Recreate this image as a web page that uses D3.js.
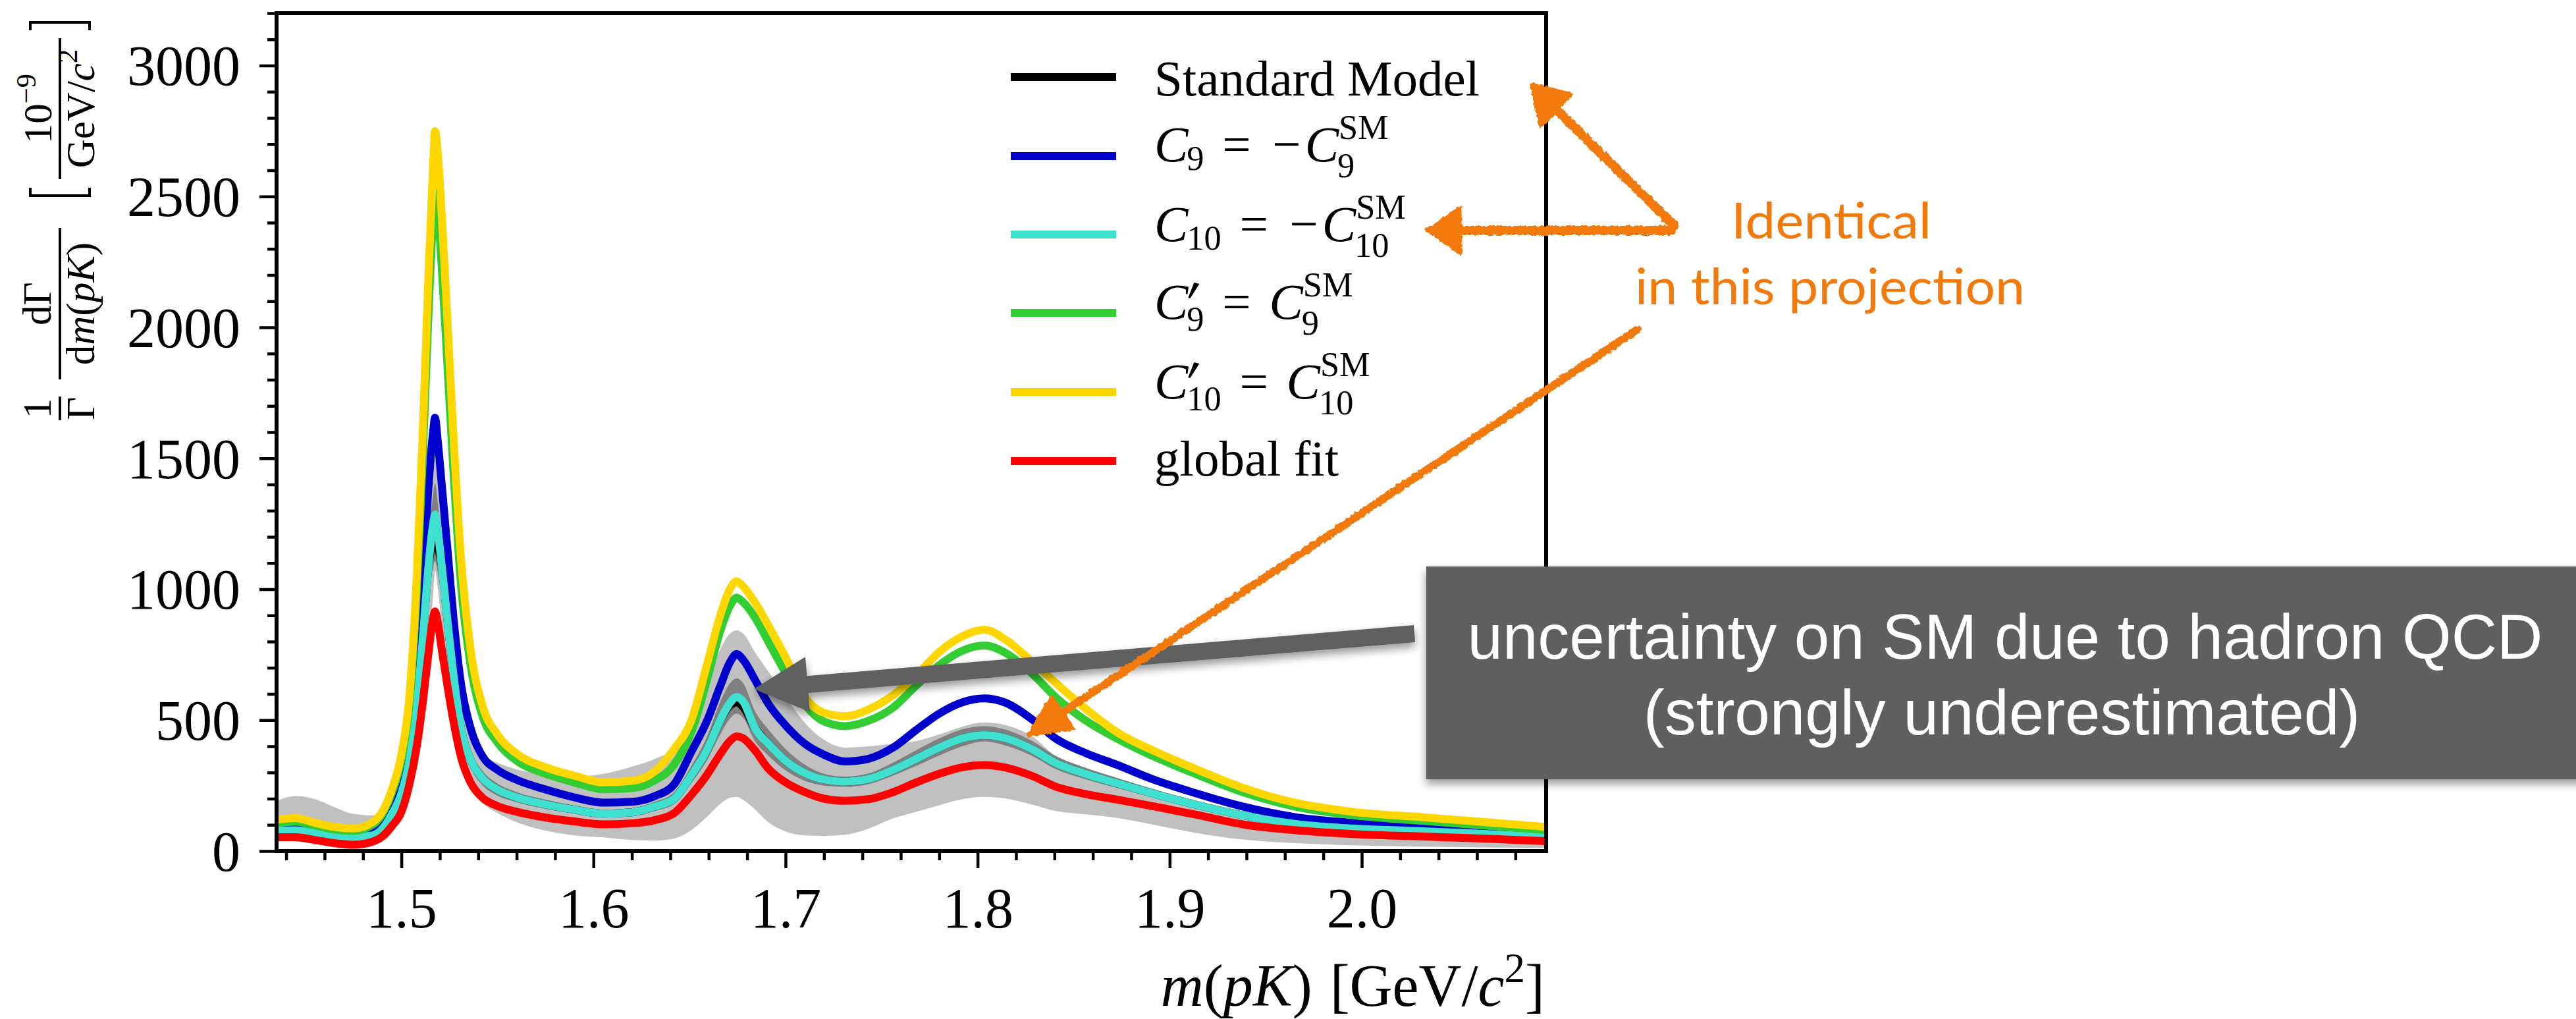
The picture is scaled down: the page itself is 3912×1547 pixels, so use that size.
<!DOCTYPE html>
<html>
<head>
<meta charset="utf-8">
<title>m(pK) spectrum: Standard Model and Wilson-coefficient scenarios</title>
<script src="https://cdn.jsdelivr.net/npm/d3@7"></script>
<style>
  html, body { margin: 0; padding: 0; background: #ffffff; }
  svg { display: block; }
</style>
</head>
<body>
<svg id="chart" width="3912" height="1547" xmlns="http://www.w3.org/2000/svg"></svg>
<script>
// ---------------------------------------------------------------
// Data: m(pK) sampling points [GeV/c^2] and the normalised rate
// 1/Γ dΓ/dm(pK) in units of 1e-9 / (GeV/c^2) for each scenario.
// ---------------------------------------------------------------
const massGrid = [1.435,1.445,1.455,1.465,1.475,1.485,1.490,1.495,1.500,1.504,1.508,1.511,1.514,1.5165,1.5175,1.519,1.521,1.524,1.527,1.531,1.536,1.542,1.550,1.560,1.575,1.590,1.605,1.620,1.632,1.642,1.651,1.659,1.666,1.671,1.6745,1.678,1.684,1.691,1.700,1.710,1.720,1.731,1.743,1.756,1.768,1.780,1.792,1.8035,1.815,1.828,1.841,1.856,1.873,1.892,1.913,1.938,1.965,1.995,2.030,2.065,2.096];

const smRate        = [78,79,68,57,53,60,84,140,220,340,560,800,1080,1195,1228,1165,1090,880,680,470,350,280,235,205,178,158,143,148,170,200,290,385,500,555,568,550,470,410,345,298,273,265,275,310,352,395,430,443,430,390,335,295,258,218,178,137,104,86,76,65,55];
const c9FlipRate    = [93,97,84,70,64,75,105,170,260,400,680,1000,1380,1600,1655,1560,1400,1150,900,640,470,365,310,272,235,205,185,188,210,255,380,495,630,720,752,730,655,563,480,410,368,342,352,395,462,525,568,583,565,505,428,375,328,272,222,170,130,108,95,80,67];
const c10FlipRate   = [78,79,68,57,53,60,84,140,220,340,560,800,1080,1250,1285,1220,1090,880,680,470,350,280,235,205,178,158,143,148,170,200,290,385,500,565,588,570,470,410,345,298,273,265,275,310,352,395,430,443,430,390,335,295,258,218,178,137,104,86,76,65,55];
const c9PrimeRate   = [106,112,97,82,77,100,140,222,350,550,990,1480,2030,2420,2530,2440,2230,1850,1460,1020,710,520,415,345,295,262,236,240,270,330,455,650,840,935,968,950,893,800,680,560,495,477,497,548,632,710,765,785,755,680,585,500,428,360,296,225,170,137,116,97,80];
const c10PrimeRate  = [120,126,108,92,86,110,150,235,370,580,1050,1580,2180,2620,2750,2660,2430,2020,1600,1120,770,560,445,372,320,288,262,268,305,390,500,710,900,1000,1030,1010,950,862,740,590,528,515,540,595,670,760,820,845,805,725,640,545,452,382,315,242,185,150,130,110,92];
const globalFitRate = [53,53,42,30,24,36,55,95,150,250,400,560,750,890,915,870,770,630,500,360,262,205,172,150,128,113,102,106,118,145,215,290,370,420,438,430,385,315,262,225,200,192,198,225,262,295,320,328,318,288,245,218,196,170,140,102,80,65,56,47,38];

// Hadronic uncertainty on the SM prediction (wide and narrow bands)
const smBandOuterLow  = [45,46,35,24,18,28,45,80,128,215,350,500,720,980,1070,1000,860,640,460,330,240,185,145,110,78,60,52,42,40,48,80,130,180,203,207,195,160,110,75,60,58,62,85,125,150,175,198,207,200,178,152,140,126,100,70,44,30,22,17,14,12];
const smBandOuterHigh = [191,210,198,168,142,136,150,200,270,400,660,950,1290,1470,1497,1420,1270,1030,800,580,440,370,338,312,292,285,295,322,352,395,500,640,770,830,843,830,760,686,590,490,425,395,400,410,420,445,475,491,480,440,360,318,278,236,194,152,118,98,86,74,62];
const smBandInnerLow  = [70,71,61,51,47,53,75,126,198,305,505,720,960,1085,1109,1060,960,790,615,425,318,253,212,186,161,143,129,133,153,180,260,345,445,505,525,508,420,365,308,268,250,245,255,288,325,365,400,419,402,365,312,275,240,203,165,126,96,80,70,60,51];
const smBandInnerHigh = [88,89,77,65,60,68,94,155,245,375,615,880,1180,1360,1404,1330,1190,965,745,515,385,308,258,225,196,174,158,164,188,225,325,435,570,640,660,640,535,465,390,330,295,284,296,338,385,430,465,477,463,422,362,318,278,235,192,150,114,95,83,71,60];

const seriesNames  = ["Standard Model", "C9 = −C9^SM", "C10 = −C10^SM", "C9' = C9^SM", "C10' = C10^SM", "global fit"];
const seriesColors = ["#000000", "#0000cd", "#40e0d0", "#32cd32", "#ffd700", "#ff0000"];

const xTickValues = [1.5, 1.6, 1.7, 1.8, 1.9, 2.0];
const xTickLabels = ["1.5", "1.6", "1.7", "1.8", "1.9", "2.0"];
const yTickValues = [0, 500, 1000, 1500, 2000, 2500, 3000];
const yTickLabels = ["0", "500", "1000", "1500", "2000", "2500", "3000"];

const boxLines  = ["uncertainty on SM due to hadron QCD", "(strongly underestimated)"];
const noteLines = ["Identical", "in this projection"];

// ---------------------------------------------------------------
// Layout
// ---------------------------------------------------------------
const SERIF = "'Liberation Serif', 'DejaVu Serif', serif";
const SANS  = "'Liberation Sans', Arial, sans-serif";
const ORANGE = "#f27a0c";
const LINE_W = 12;
const plot = { left: 420, right: 2348, top: 20, bottom: 1292 };

const svg = d3.select("#chart");

const x = d3.scaleLinear().domain([1.435, 2.096]).range([plot.left, plot.right]);
const y = d3.scaleLinear().domain([0, 3200]).range([plot.bottom, plot.top]);

// ---------- filters ----------
const defs = svg.append("defs");
defs.append("clipPath").attr("id", "plotClip")
  .append("rect").attr("x", plot.left).attr("y", plot.top)
  .attr("width", plot.right - plot.left).attr("height", plot.bottom - plot.top);

const shadow = defs.append("filter").attr("id", "softShadow")
  .attr("filterUnits", "userSpaceOnUse").attr("x", 0).attr("y", 0).attr("width", 3912).attr("height", 1547);
shadow.append("feGaussianBlur").attr("in", "SourceAlpha").attr("stdDeviation", 7);
shadow.append("feOffset").attr("dx", 0).attr("dy", 7).attr("result", "off");
shadow.append("feComponentTransfer").attr("in", "off").attr("result", "soft")
  .append("feFuncA").attr("type", "linear").attr("slope", 0.42);
const sm = shadow.append("feMerge");
sm.append("feMergeNode").attr("in", "soft");
sm.append("feMergeNode").attr("in", "SourceGraphic");

const rough = defs.append("filter").attr("id", "rough")
  .attr("filterUnits", "userSpaceOnUse").attr("x", 0).attr("y", 0).attr("width", 3912).attr("height", 1547);
rough.append("feTurbulence").attr("type", "fractalNoise").attr("baseFrequency", 0.18)
  .attr("numOctaves", 2).attr("seed", 4).attr("result", "noise");
rough.append("feDisplacementMap").attr("in", "SourceGraphic").attr("in2", "noise")
  .attr("scale", 6).attr("xChannelSelector", "R").attr("yChannelSelector", "G");

// ---------- bands and curves ----------
const idx = d3.range(massGrid.length);
const plotArea = svg.append("g").attr("clip-path", "url(#plotClip)");

function band(low, high, color) {
  const area = d3.area()
    .x(i => x(massGrid[i]))
    .y0(i => y(low[i]))
    .y1(i => y(high[i]))
    .curve(d3.curveMonotoneX);
  plotArea.append("path").attr("d", area(idx)).attr("fill", color).attr("stroke", "none");
}
band(smBandOuterLow, smBandOuterHigh, "#c0c0c0");
band(smBandInnerLow, smBandInnerHigh, "#808080");

const seriesValues = [smRate, c9FlipRate, c10FlipRate, c9PrimeRate, c10PrimeRate, globalFitRate];
const line = d3.line()
  .x((d, i) => x(massGrid[i]))
  .y(d => y(d))
  .curve(d3.curveMonotoneX);

seriesValues.forEach((vals, k) => {
  plotArea.append("path")
    .attr("d", line(vals))
    .attr("fill", "none")
    .attr("stroke", seriesColors[k])
    .attr("stroke-width", LINE_W)
    .attr("stroke-linejoin", "round");
});

// ---------- axes ----------
const xMinor = d3.range(72, 105).filter(k => k % 5 !== 0).map(k => k * 0.02);
const yMinor = d3.range(0, 33).filter(k => k % 5 !== 0).map(k => k * 100);

function styleAxis(g) {
  g.select(".domain").remove();
  g.selectAll(".tick line").attr("stroke", "#000").attr("stroke-width", 4.5);
  g.attr("font-family", SERIF).attr("font-size", 86);
  g.selectAll("text").attr("fill", "#000");
}

svg.append("g").attr("transform", `translate(0,${plot.bottom})`)
  .call(d3.axisBottom(x).tickValues(xMinor).tickSize(14).tickFormat(""))
  .call(styleAxis);
svg.append("g").attr("transform", `translate(0,${plot.bottom})`)
  .call(d3.axisBottom(x).tickValues(xTickValues).tickSize(26).tickFormat((d, i) => xTickLabels[i]))
  .call(styleAxis)
  .call(g => g.selectAll("text").attr("y", 116).attr("dy", null));

svg.append("g").attr("transform", `translate(${plot.left},0)`)
  .call(d3.axisLeft(y).tickValues(yMinor).tickSize(14).tickFormat(""))
  .call(styleAxis);
svg.append("g").attr("transform", `translate(${plot.left},0)`)
  .call(d3.axisLeft(y).tickValues(yTickValues).tickSize(26).tickFormat((d, i) => yTickLabels[i]))
  .call(styleAxis)
  .call(g => g.selectAll("text").attr("x", -55).attr("dy", "0.34em"));

// frame
svg.append("rect")
  .attr("x", plot.left).attr("y", plot.top)
  .attr("width", plot.right - plot.left).attr("height", plot.bottom - plot.top)
  .attr("fill", "none").attr("stroke", "#000").attr("stroke-width", 6);

// ---------- math text helper ----------
// Lays out a run of pieces (with optional stacked sub/superscripts and a
// drawn prime) inside a group; returns the group and the run's width.
function mathRun(parent, pieces, size) {
  const g = parent.append("g");
  const probe = g.append("text").attr("visibility", "hidden");
  const widthOf = q => {
    probe.attr("font-size", size * (q.s || 1)).attr("font-style", q.it ? "italic" : "normal").text(q.t);
    return probe.node().getComputedTextLength();
  };
  const items = [], primes = [];
  let cx = 0;
  pieces.forEach(p => {
    if (p.gap) cx += p.gap * size;
    if (p.stack) {
      let w = 0;
      if (p.stack.prime) { primes.push(cx); w = size * 0.2; }
      ["sup", "sub"].forEach(k => {
        const q = p.stack[k];
        if (!q) return;
        const dx = q.dx || 0;
        items.push({ q, at: cx + dx });
        w = Math.max(w, widthOf(q) + dx);
      });
      cx += w;
    } else {
      items.push({ q: p, at: cx });
      cx += widthOf(p);
    }
  });
  probe.remove();
  const t = g.append("text");
  items.forEach(({ q, at }) => {
    t.append("tspan")
      .attr("x", at).attr("y", q.sh || 0)
      .attr("font-size", size * (q.s || 1))
      .attr("font-style", q.it ? "italic" : "normal")
      .text(q.t);
  });
  const k = size / 77;
  primes.forEach(px => {
    g.append("polygon")
      .attr("points", [[px + 9 * k, -55 * k], [px + 17 * k, -53 * k], [px + 3 * k, -31 * k], [px + 0 * k, -32 * k]]
        .map(p => p.join(",")).join(" "))
      .attr("fill", "#000");
  });
  return { node: g, width: cx };
}
function placeRun(parent, pieces, size, anchorX, baseline, anchor) {
  const r = mathRun(parent, pieces, size);
  const shift = anchor === "middle" ? r.width / 2 : anchor === "end" ? r.width : 0;
  r.node.attr("transform", `translate(${anchorX - shift},${baseline})`);
  return r;
}

// ---------- legend ----------
const SUB = 0.68;
const supSM = { t: "SM", s: SUB, sh: -34 };
const legendPieces = [
  [{ t: "Standard Model" }],
  [{ t: "C", it: 1 }, { stack: { sub: { t: "9", s: SUB, sh: 13, dx: -2 } } },
   { gap: 0.36, t: "=" }, { gap: 0.42, t: "−" }, { gap: 0.08, t: "C", it: 1 },
   { stack: { sup: supSM, sub: { t: "9", s: SUB, sh: 24, dx: -2 } } }],
  [{ t: "C", it: 1 }, { stack: { sub: { t: "10", s: SUB, sh: 13, dx: -2 } } },
   { gap: 0.36, t: "=" }, { gap: 0.42, t: "−" }, { gap: 0.08, t: "C", it: 1 },
   { stack: { sup: supSM, sub: { t: "10", s: SUB, sh: 24, dx: -2 } } }],
  [{ t: "C", it: 1 }, { stack: { prime: true, sub: { t: "9", s: SUB, sh: 18, dx: -2 } } },
   { gap: 0.36, t: "=" }, { gap: 0.36, t: "C", it: 1 },
   { stack: { sup: supSM, sub: { t: "9", s: SUB, sh: 24, dx: -2 } } }],
  [{ t: "C", it: 1 }, { stack: { prime: true, sub: { t: "10", s: SUB, sh: 18, dx: -2 } } },
   { gap: 0.36, t: "=" }, { gap: 0.36, t: "C", it: 1 },
   { stack: { sup: supSM, sub: { t: "10", s: SUB, sh: 24, dx: -2 } } }],
  [{ t: "global fit" }]
];
const legendRowY = [117, 237, 356, 475, 595, 700];
const legendBase = [145, 245, 366, 484, 605, 722];
const legend = svg.append("g").attr("font-family", SERIF).attr("fill", "#000");
seriesNames.forEach((name, k) => {
  legend.append("line")
    .attr("x1", 1535).attr("x2", 1695)
    .attr("y1", legendRowY[k]).attr("y2", legendRowY[k])
    .attr("stroke", seriesColors[k]).attr("stroke-width", LINE_W);
  placeRun(legend, legendPieces[k], 77, 1753, legendBase[k], "start")
    .node.attr("data-series", name);
});

// ---------- axis titles ----------
const xTitle = svg.append("g").attr("font-family", SERIF).attr("fill", "#000");
placeRun(xTitle, [
  { t: "m", it: 1 }, { t: "(" }, { t: "p", it: 1 }, { t: "K", it: 1 }, { t: ")" },
  { gap: 0.3, t: "[GeV/" }, { t: "c", it: 1 }, { t: "2", s: 0.7, sh: -36 }, { t: "]" }
], 90, plot.right - 2, 1527, "end");

// y title, drawn rotated; local x runs up the page, local y runs to the right
const yTitle = svg.append("g")
  .attr("transform", "translate(91,0) rotate(-90)")
  .attr("font-family", SERIF).attr("fill", "#000");
const YS = 61;
function fracBar(u0, u1) {
  yTitle.append("line").attr("x1", u0).attr("x2", u1).attr("y1", 0).attr("y2", 0)
    .attr("stroke", "#000").attr("stroke-width", 4);
}
placeRun(yTitle, [{ t: "1" }], YS, -620, -14, "middle");
placeRun(yTitle, [{ t: "Γ" }], YS, -620, 52, "middle");
fracBar(-638, -602);
placeRun(yTitle, [{ t: "dΓ" }], YS, -461, -14, "middle");
placeRun(yTitle, [{ t: "d" }, { t: "m", it: 1 }, { t: "(" }, { t: "p", it: 1 }, { t: "K", it: 1 }, { t: ")" }], YS, -461, 52, "middle");
fracBar(-576, -346);
placeRun(yTitle, [{ t: "10" }, { t: "−9", s: 0.7, sh: -24 }], YS, -165, -13, "middle");
placeRun(yTitle, [{ t: "GeV/" }, { t: "c", it: 1 }, { t: "2", s: 0.7, sh: -26 }], YS, -165, 52, "middle");
fracBar(-272, -58);
yTitle.append("path").attr("d", "M-285,-45 L-297,-45 L-297,45 L-285,45")
  .attr("fill", "none").attr("stroke", "#000").attr("stroke-width", 4);
yTitle.append("path").attr("d", "M-46,-45 L-34,-45 L-34,45 L-46,45")
  .attr("fill", "none").attr("stroke", "#000").attr("stroke-width", 4);

// ---------- grey call-out: arrow and box ----------
const callout = svg.append("g").attr("filter", "url(#softShadow)");
const tip = [x(1.6835), y(619)];
const tail = [2148, 962];
const L = Math.hypot(tip[0] - tail[0], tip[1] - tail[1]);
const u = [(tip[0] - tail[0]) / L, (tip[1] - tail[1]) / L];
const n = [-u[1], u[0]];
const headLen = 82, headHalf = 42, shaftHalf = 13;
const base = [tip[0] - u[0] * headLen, tip[1] - u[1] * headLen];
const off = (p, s) => [p[0] + n[0] * s, p[1] + n[1] * s];
const arrowPts = [off(tail, shaftHalf), off(base, shaftHalf), off(base, headHalf), tip,
                  off(base, -headHalf), off(base, -shaftHalf), off(tail, -shaftHalf)];
callout.append("polygon").attr("points", arrowPts.map(p => p.join(",")).join(" ")).attr("fill", "#606060");
callout.append("rect").attr("x", 2166).attr("y", 860).attr("width", 1760).attr("height", 323).attr("fill", "#5e5e5e");

const boxText = svg.append("g").attr("font-family", SANS).attr("fill", "#ffffff")
  .attr("font-size", 96).attr("text-anchor", "middle");
boxText.append("text").attr("x", 3045).attr("y", 1000).text(boxLines[0]);
boxText.append("text").attr("x", 3040).attr("y", 1115).text(boxLines[1]);

// ---------- orange hand-drawn note ----------
const note = svg.append("g").attr("filter", "url(#rough)");
const stroke = (d, w) => note.append("path").attr("d", d).attr("fill", "none")
  .attr("stroke", ORANGE).attr("stroke-width", w).attr("stroke-linecap", "round").attr("stroke-linejoin", "round");
const head = pts => note.append("polygon").attr("points", pts.map(p => p.join(",")).join(" ")).attr("fill", ORANGE)
  .attr("stroke", ORANGE).attr("stroke-width", 5).attr("stroke-linejoin", "round");

// towards the "Standard Model" legend entry
stroke("M2542,342 L2362,165", 14);
head([[2326, 128], [2386, 143], [2340, 192]]);
// towards the C10 legend entry
stroke("M2538,350 L2212,350", 14);
head([[2167, 349], [2218, 315], [2218, 385]]);
// towards the coincident SM / C10 curves
const nTip = [x(1.8265), y(443)];
const nTail = [2487, 500];
const nL = Math.hypot(nTip[0] - nTail[0], nTip[1] - nTail[1]);
const nu = [(nTip[0] - nTail[0]) / nL, (nTip[1] - nTail[1]) / nL];
const nn = [-nu[1], nu[0]];
const nBase = [nTip[0] - nu[0] * 62, nTip[1] - nu[1] * 62];
stroke(`M${nTail[0]},${nTail[1]} L${nBase[0]},${nBase[1]}`, 12);
head([nTip, [nBase[0] + nn[0] * 30, nBase[1] + nn[1] * 30], [nBase[0] - nn[0] * 30, nBase[1] - nn[1] * 30]]);

const noteText = svg.append("g").attr("font-family", "Lato, 'Open Sans', sans-serif")
  .attr("fill", ORANGE).attr("font-size", 76).attr("text-anchor", "middle");
noteText.append("text").attr("x", 2781).attr("y", 362)
  .attr("textLength", 304).attr("lengthAdjust", "spacingAndGlyphs").text(noteLines[0]);
noteText.append("text").attr("x", 2779).attr("y", 462)
  .attr("textLength", 592).attr("lengthAdjust", "spacingAndGlyphs").text(noteLines[1]);
</script>
</body>
</html>
